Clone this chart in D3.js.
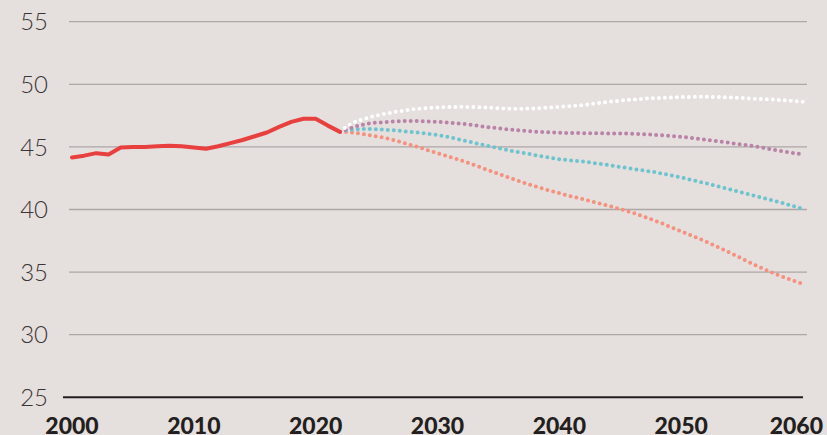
<!DOCTYPE html>
<html>
<head>
<meta charset="utf-8">
<script src="https://cdn.jsdelivr.net/npm/d3@7"></script>
<style>
  html, body { margin: 0; padding: 0; background: #e5dfdd; }
  svg { display: block; }
</style>
</head>
<body>
<div id="chart"></div>
<script>
// DATA
var actualYears = [2000, 2001, 2002, 2003, 2004, 2005, 2006, 2007, 2008, 2009, 2010, 2011,
   2012, 2013, 2014, 2015, 2016, 2017, 2018, 2019, 2020, 2021, 2022];
var actualValues = [44.15, 44.3, 44.5, 44.4, 44.95, 45.0, 45.0, 45.05, 45.1, 45.05, 44.95, 44.85,
   45.05, 45.3, 45.55, 45.85, 46.15, 46.6, 47.0, 47.25, 47.25, 46.7, 46.2];

var forecastYears = [2022, 2023, 2024, 2026, 2028, 2030, 2032, 2034, 2036, 2038, 2040, 2042,
   2044, 2046, 2048, 2050, 2052, 2054, 2056, 2058, 2060];
var highValues = [46.2, 46.9, 47.25, 47.7, 48.0, 48.15, 48.2, 48.15, 48.05, 48.08, 48.2, 48.35,
   48.6, 48.78, 48.9, 48.98, 49.0, 48.95, 48.85, 48.75, 48.6];
var midHighValues = [46.2, 46.55, 46.8, 47.0, 47.07, 47.0, 46.85, 46.6, 46.38, 46.22, 46.13, 46.1,
   46.08, 46.05, 45.95, 45.8, 45.58, 45.32, 45.05, 44.7, 44.4];
var midLowValues = [46.2, 46.38, 46.43, 46.35, 46.18, 45.95, 45.55, 45.1, 44.7, 44.35, 44.02, 43.82,
   43.55, 43.25, 42.95, 42.55, 42.1, 41.6, 41.1, 40.6, 40.05];
var lowValues = [46.2, 46.15, 46.0, 45.65, 45.1, 44.5, 43.9, 43.2, 42.5, 41.85, 41.3, 40.8,
   40.3, 39.75, 39.05, 38.25, 37.45, 36.55, 35.6, 34.75, 34.05];

var yTicks = [25, 30, 35, 40, 45, 50, 55];
var xTicks = [2000, 2010, 2020, 2030, 2040, 2050, 2060];

// CANVAS
var width = 827, height = 435;
var svg = d3.select('#chart').append('svg')
   .attr('width', width)
   .attr('height', height);

svg.append('rect')
   .attr('width', width)
   .attr('height', height)
   .attr('fill', '#e5dfdd');

// SCALES
var x = d3.scaleLinear().domain([2000, 2060]).range([72, 803]);
var y = d3.scaleLinear().domain([25, 55]).range([397.3, 21.7]);

// GRID LINES
svg.selectAll('.grid')
   .data(yTicks.filter(d => d > 25))
   .enter().append('line')
      .attr('x1', 69)
      .attr('x2', 807)
      .attr('y1', d => y(d))
      .attr('y2', d => y(d))
      .attr('stroke', '#aca8a7')
      .attr('stroke-width', 1.3);

// BASELINE
svg.append('line')
   .attr('x1', 63)
   .attr('x2', 803)
   .attr('y1', y(25))
   .attr('y2', y(25))
   .attr('stroke', '#231f20')
   .attr('stroke-width', 2);

// Y LABELS
svg.selectAll('.ylab')
   .data(yTicks)
   .enter().append('text')
      .attr('x', 48)
      .attr('y', d => y(d))
      .attr('dy', '0.36em')
      .attr('text-anchor', 'end')
      .attr('font-family', 'Lato, sans-serif')
      .attr('font-weight', 300)
      .attr('font-size', 24)
      .attr('fill', '#3a3637')
      .text(d => d);

// X LABELS
svg.selectAll('.xlab')
   .data(xTicks)
   .enter().append('text')
      .attr('x', d => d === 2060 ? 823 : x(d))
      .attr('y', 434)
      .attr('text-anchor', d => d === 2060 ? 'end' : 'middle')
      .attr('font-family', 'Lato, sans-serif')
      .attr('font-weight', 900)
      .attr('font-size', 23)
      .attr('fill', '#231f20')
      .text(d => d);

// FORECAST LINES (DOTTED)
var forecastLine = d3.line()
   .x((d, i) => x(forecastYears[i]))
   .y(d => y(d))
   .curve(d3.curveMonotoneX);

var forecasts = [
   { values: lowValues, color: '#f4917f' },
   { values: midLowValues, color: '#6dc4ce' },
   { values: midHighValues, color: '#b983a8' },
   { values: highValues, color: '#ffffff' }
];

forecasts.forEach(f => {
   svg.append('path')
      .attr('d', forecastLine(f.values))
      .attr('fill', 'none')
      .attr('stroke', f.color)
      .attr('stroke-width', 4)
      .attr('stroke-linecap', 'round')
      .attr('stroke-dasharray', '0 6');
});

// ACTUAL LINE
var actualLine = d3.line()
   .x((d, i) => x(actualYears[i]))
   .y(d => y(d));

svg.append('path')
   .attr('d', actualLine(actualValues))
   .attr('fill', 'none')
   .attr('stroke', '#e8403f')
   .attr('stroke-width', 4)
   .attr('stroke-linejoin', 'round')
   .attr('stroke-linecap', 'round');
</script>
</body>
</html>
